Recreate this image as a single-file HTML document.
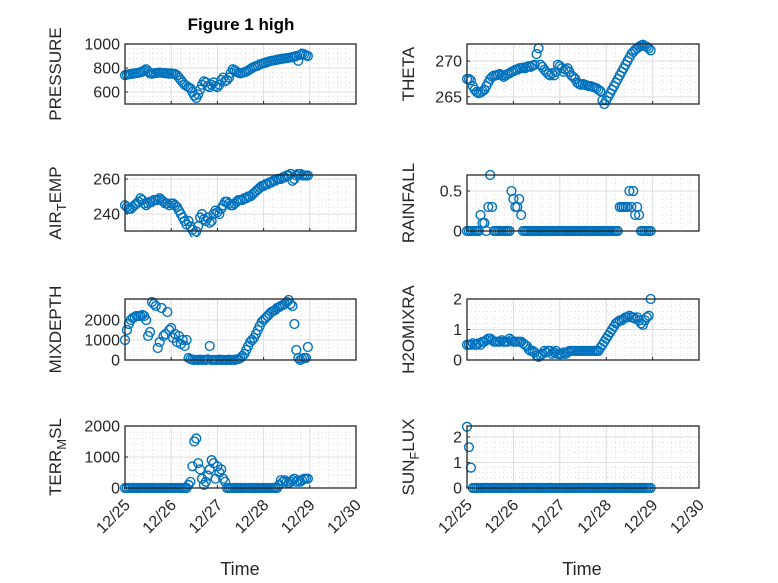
<!DOCTYPE html>
<html><head><meta charset="utf-8"><style>
body{margin:0;background:#fff}
svg{display:block;font-family:"Liberation Sans","DejaVu Sans",sans-serif}
</style></head><body>
<svg id="fig" width="778" height="583" viewBox="0 0 778 583" xmlns="http://www.w3.org/2000/svg">
<rect width="778" height="583" fill="#fff"/>
<text x="241" y="30" font-size="17" font-weight="bold" text-anchor="middle" fill="#000">Figure 1 high</text>
<text x="240" y="575" font-size="18" text-anchor="middle" fill="#262626">Time</text>
<text x="582" y="575" font-size="18" text-anchor="middle" fill="#262626">Time</text>
</svg>
<script>
const hours = Array.from({length:96},(_,i)=>i);
const dayTicks = ['12/25','12/26','12/27','12/28','12/29','12/30'];
const pressure = [740,745,748,750,752,755,758,760,765,770,780,790, 770,755,752,755,758,760,762,760,758,757,755,752, 755,752,750,740,720,700,680,660,650,640,630,600, 570,550,580,620,660,690,680,650,640,660,680,650, 640,660,700,720,690,700,720,760,790,780,770,760, 755,760,765,770,780,790,800,810,815,820,830,835, 840,845,850,855,860,862,865,870,872,875,878,880, 882,885,888,890,895,900,860,910,920,915,905,900];
const airTemp = [245,244,243,243,244,245,246,247,249,248,246,245, 246,247,247,248,248,248,249,248,247,246,246,245, 246,246,245,244,242,240,238,236,234,236,233,231, 229,230,233,238,240,237,236,238,235,236,240,242, 241,240,243,245,247,247,246,245,245,246,247,248, 248,248,249,249,250,250,251,252,253,254,255,256, 256,257,257,258,258,259,259,260,260,260,261,261, 262,262,263,259,260,262,263,263,262,262,262,262];
const mixDepth = [1000,1500,1800,2000,2100,2150,2200,2200,2200,2250,2200,2000, 1200,1400,2900,2800,2700,600,900,2600,1200,1300,2400,1500, 1600,1100,1300,900,1200,800,1000,700,1000,100,50,20, 0,10,0,20,0,10,0,30,700,0,10,0, 0,20,0,10,0,0,20,0,10,0,30,50, 100,200,300,500,700,900,1000,1100,1300,1500,1700,1900, 2000,2100,2200,2300,2400,2450,2500,2600,2650,2700,2750,2800, 2900,3000,2800,2700,1800,500,100,0,50,100,100,650];
const terrMsl = [0,0,0,0,0,0,0,0,0,0,0,0, 0,0,0,0,0,0,0,0,0,0,0,0, 0,0,0,0,0,0,0,0,0,100,200,700, 1500,1600,800,600,300,100,200,400,600,900,800,300, 700,500,600,300,200,0,0,0,0,0,0,0, 0,0,0,0,0,0,0,0,0,0,0,0, 0,0,0,0,0,0,0,0,100,250,200,250, 200,150,200,250,300,200,250,200,250,300,300,300];
const theta = [267.5,267.5,267.3,266.5,266,265.7,265.5,265.6,265.8,266,266.5,267, 267.5,267.8,268,268,268.1,268.2,268,267.8,268,268.2,268.3,268.5, 268.6,268.8,268.8,269,269,269.1,269,269.2,269.3,269.2,269.4,269.5, 271,271.8,269.5,269.2,268.8,268.5,268.2,268,268.3,268,268.5,269.5, 269.3,269,268.5,268.8,269,268.5,268,267.8,267.5,267,266.8,266.7, 266.8,266.7,266.6,266.5,266.5,266.4,266.3,266.2,266,265.8,264.5,264, 264.5,265,265.5,266,266.5,267,267.5,268,268.5,269,269.5,270, 270.5,271,271.3,271.6,271.8,272,272.2,272.3,272.1,272,271.8,271.5];
const rainfall = [0,0,0,0,0,0,0,0.2,0.1,0.1,0,0.3, 0.7,0.3,0,0,0,0,0,0,0,0,0,0.5, 0.4,0.3,0.3,0.4,0.2,0,0,0,0,0,0,0, 0,0,0,0,0,0,0,0,0,0,0,0, 0,0,0,0,0,0,0,0,0,0,0,0, 0,0,0,0,0,0,0,0,0,0,0,0, 0,0,0,0,0,0,0,0.3,0.3,0.3,0.3,0.3, 0.5,0.3,0.5,0.2,0.3,0.2,0,0,0,0,0,0];
const h2oMix = [0.5,0.5,0.5,0.55,0.5,0.5,0.55,0.5,0.6,0.6,0.65,0.7, 0.7,0.65,0.6,0.6,0.6,0.6,0.65,0.6,0.6,0.6,0.7,0.65, 0.6,0.6,0.6,0.6,0.6,0.55,0.5,0.45,0.35,0.3,0.3,0.25, 0.15,0.1,0.15,0.2,0.3,0.25,0.3,0.3,0.2,0.25,0.3,0.2, 0.2,0.2,0.25,0.2,0.25,0.3,0.3,0.3,0.3,0.3,0.3,0.3, 0.3,0.3,0.3,0.3,0.3,0.3,0.3,0.3,0.3,0.4,0.5,0.6, 0.7,0.8,0.9,1.0,1.1,1.2,1.25,1.3,1.3,1.35,1.4,1.4, 1.45,1.4,1.4,1.35,1.4,1.3,1.2,1.15,1.3,1.4,1.45,2.0];
const sunFlux = [2.4,1.6,0.8].concat(Array(93).fill(0));

const NS='http://www.w3.org/2000/svg';
const svg=document.getElementById('fig');
function el(tag,attrs,parent){const e=document.createElementNS(NS,tag);for(const k in attrs)e.setAttribute(k,attrs[k]);(parent||svg).appendChild(e);return e;}

const rowsY=[[44,104],[175,231],[299,360],[426,488]];
const colsX=[[125,356],[467,699]];

function panel(name,label,col,row,vals,ymin,ymax,yticks,showX){
  const [x0,x1]=colsX[col],[y0,y1]=rowsY[row];
  const g=el('g',{});
  
  
  const xs=d=>x0+(d/5)*(x1-x0);
  const ys=v=>y1-(v-ymin)/(ymax-ymin)*(y1-y0);
  for(let i=1;i<25;i++){if(i%5===0)continue;const x=xs(i/5);
    el('line',{x1:x,x2:x,y1:y0,y2:y1,stroke:'#c8c8c8','stroke-width':0.6,'stroke-dasharray':'1,3'},g);}
  const step=yticks.length>1?yticks[1]-yticks[0]:1;
  for(let v=yticks[0]-step;v<=ymax;v+=step/5){if(v<ymin||v>ymax)continue;const y=ys(v);
    el('line',{x1:x0,x2:x1,y1:y,y2:y,stroke:'#c8c8c8','stroke-width':0.6,'stroke-dasharray':'1,3'},g);}
  for(let i=1;i<5;i++){const x=xs(i);el('line',{x1:x,x2:x,y1:y0,y2:y1,stroke:'#dcdcdc','stroke-width':1},g);}
  yticks.forEach(v=>{const y=ys(v);el('line',{x1:x0,x2:x1,y1:y,y2:y,stroke:'#dcdcdc','stroke-width':1},g);
    const t=el('text',{x:x0-5,y:y+5.5,'font-size':16,'text-anchor':'end',fill:'#262626'},g);t.textContent=v;
    
    
    el('line',{x1:x0,x2:x0+3,y1:y,y2:y,stroke:'#262626'},g);});
  for(let i=0;i<=5;i++){const x=xs(i);el('line',{x1:x,x2:x,y1:y1,y2:y1-3,stroke:'#262626'},g);
    if(showX){const t=el('text',{x:x+6,y:y1+18,'font-size':16,'text-anchor':'end',fill:'#262626',transform:`rotate(-45 ${x+6} ${y1+18})`},g);t.textContent=dayTicks[i];
      
      }}
  const cp=el('clipPath',{id:'cp'+name},g);
  el('rect',{x:x0-6,y:y0-6,width:x1-x0+12,height:y1-y0+12},cp);
  const dg=el('g',{'clip-path':`url(#cp${name})`},g);
  vals.forEach((v,i)=>{const c=el('circle',{cx:xs(hours[i]/24),cy:ys(v),r:4.4,fill:'none',stroke:'#0072BD','stroke-width':1.4},dg);
    
    });
  el('rect',{x:x0,y:y0,width:x1-x0,height:y1-y0,fill:'none',stroke:'#262626','stroke-width':1.3},g);
  const lx=col===0?61:414, ly=(y0+y1)/2;
  const t=el('text',{x:lx,y:ly,'font-size':17,'text-anchor':'middle',fill:'#262626',transform:`rotate(-90 ${lx} ${ly})`},g);
  
  
  if(Array.isArray(label)){
    const a=el('tspan',{},t);a.textContent=label[0];
    const b=el('tspan',{dy:5,'font-size':13},t);b.textContent=label[1];
    const c=el('tspan',{dy:-5},t);c.textContent=label[2];
  } else t.textContent=label;
}
panel('pressure','PRESSURE',0,0,pressure,500,1000,[600,800,1000],false);
panel('air-temp',['AIR','T','EMP'],0,1,airTemp,230.3,262.3,[240,260],false);
panel('mixdepth','MIXDEPTH',0,2,mixDepth,0,3050,[0,1000,2000],false);
panel('terr-msl',['TERR','M','SL'],0,3,terrMsl,0,2000,[0,1000,2000],true);
panel('theta','THETA',1,0,theta,264,272.4,[265,270],false);
panel('rainfall','RAINFALL',1,1,rainfall,0,0.7,[0,0.5],false);
panel('h2omixra','H2OMIXRA',1,2,h2oMix,0,2,[0,1,2],false);
panel('sun-flux',['SUN','F','LUX'],1,3,sunFlux,0,2.43,[0,1,2],true);
</script>
</body></html>
